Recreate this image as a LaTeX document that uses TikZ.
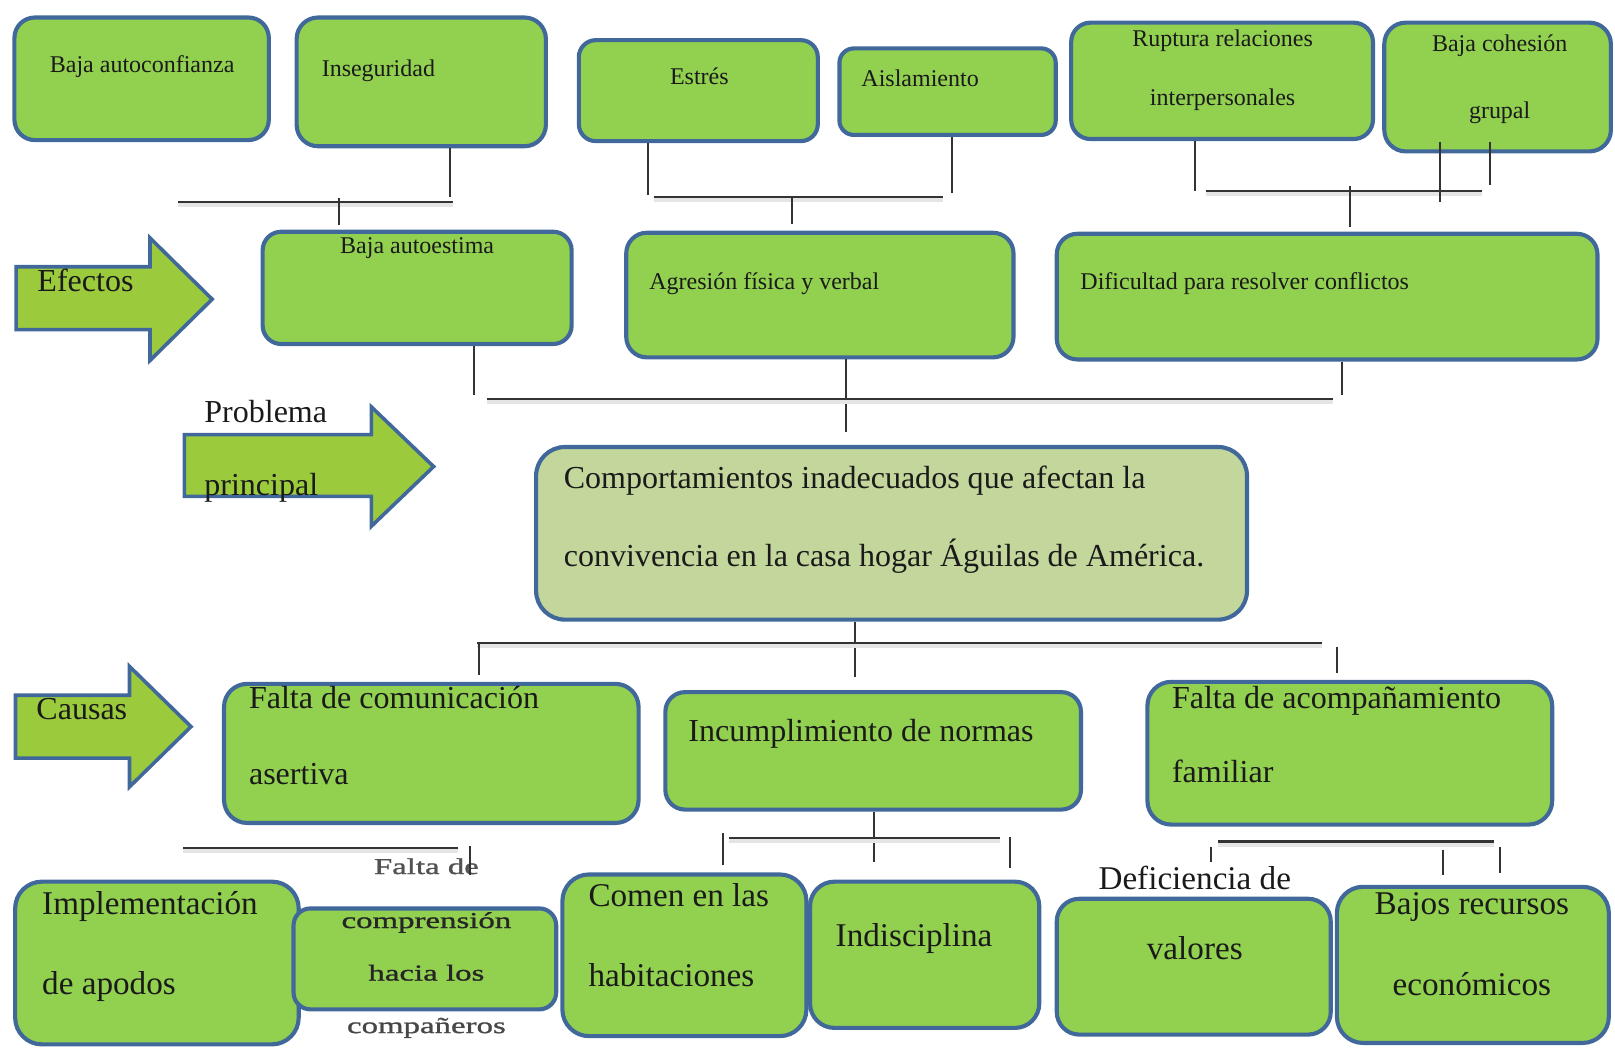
\documentclass[tikz,border=0pt]{standalone}
\usepackage{fontspec}
\setmainfont{Liberation Serif}
\newfontfamily\widefont[FakeStretch=1.45,FakeBold=1.2]{Liberation Serif}
\usetikzlibrary{fit}
\definecolor{boxfill}{HTML}{92D050}
\definecolor{boxline}{HTML}{41689A}
\definecolor{mainfill}{HTML}{C3D69B}
\definecolor{arrfill}{HTML}{9BCB3C}
\definecolor{lineclr}{HTML}{333333}
\definecolor{txtclr}{HTML}{1A1A1A}
\begin{document}
\begin{tikzpicture}[x=0.5pt,y=-0.5pt,
  box/.style={draw=boxline, fill=boxfill, line width=2pt, inner sep=0pt},
  mainbox/.style={box, fill=mainfill},
  arrowshape/.style={draw=boxline, fill=arrfill, line width=1.75pt, line join=miter},
  conn/.style={draw=lineclr, line width=1pt},
  hconn/.style={conn, preaction={draw=black!10, line width=2pt, transform canvas={yshift=-1.5pt}}},
  txt/.style={inner sep=0pt, text=txtclr},
  stxt/.style={txt, font=\fontsize{11.65pt}{14pt}\selectfont},
  mtxt/.style={txt, font=\fontsize{15.55pt}{18pt}\selectfont},
  btxt/.style={txt, font=\fontsize{16.1pt}{19pt}\selectfont},
  wtxt/.style={txt, text=black!85, font=\widefont\fontsize{11pt}{13pt}\selectfont},
]
\useasboundingbox (0,0) rectangle (1568,1020);

% ---------- arrows ----------
\draw[arrowshape] (15.6,259) -- (145.6,259) -- (145.6,231) -- (206,290.5) -- (145.6,350) -- (145.6,320) -- (15.6,320) -- cycle;
\draw[arrowshape] (179,422) -- (360.5,422) -- (360.5,395) -- (421,453) -- (360.5,511) -- (360.5,482) -- (179,482) -- cycle;
\draw[arrowshape] (15,675) -- (125.7,675) -- (125.7,647) -- (185.5,705.5) -- (125.7,764) -- (125.7,736) -- (15,736) -- cycle;
\node[mtxt, anchor=base west] (efectos) at (36,283) {Efectos};
\node[mtxt, anchor=base west] (problema) at (198,410) {Problema};
\node[mtxt, anchor=base west] (principal) at (198,480.6) {principal};
\node[mtxt, anchor=base west] (causas) at (35,699) {Causas};

% ---------- top row ----------
\node[box, rounded corners=9.9pt, fit={(14,17)(261,136)}] (a1) {};
\node[box, rounded corners=10.4pt, fit={(288,17)(530,142)}] (a2) {};
\node[box, rounded corners=8.2pt, fit={(562,39)(794,137)}] (a3) {};
\node[box, rounded corners=7pt, fit={(815,47)(1025,131)}] (a4) {};
\node[box, rounded corners=9.4pt, fit={(1040,22)(1333,135)}] (a5) {};
\node[box, rounded corners=10.4pt, fit={(1344,22)(1564,147)}] (a6) {};
\node[stxt, anchor=base] (ta1) at (138,70) {Baja autoconfianza};
\node[stxt, anchor=base west] (ta2) at (312,74.5) {Inseguridad};
\node[stxt, anchor=base] (ta3) at (679,82.5) {Estrés};
\node[stxt, anchor=base west] (ta4) at (836,84) {Aislamiento};
\node[stxt, anchor=base] (ta5a) at (1187,45) {Ruptura relaciones};
\node[stxt, anchor=base] (ta5b) at (1187,102) {interpersonales};
\node[stxt, anchor=base] (ta6a) at (1456,50) {Baja cohesión};
\node[stxt, anchor=base] (ta6b) at (1456,115) {grupal};

% ---------- second row ----------
\node[box, rounded corners=9pt, fit={(255,225)(555,334)}] (b1) {};
\node[box, rounded corners=10pt, fit={(608,226)(984,347)}] (b2) {};
\node[box, rounded corners=10pt, fit={(1026,227)(1551,349)}] (b3) {};
\node[stxt, anchor=base] (tb1) at (405,246) {Baja autoestima};
\node[stxt, anchor=base west] (tb2) at (630,281.5) {Agresión física y verbal};
\node[stxt, anchor=base west] (tb3) at (1048.6,281.5) {Dificultad para resolver conflictos};

% ---------- main problem ----------
\node[mainbox, rounded corners=14pt, fit={(520.5,434)(1210.7,601.6)}] (main) {};
\node[mtxt, anchor=base west] (tm1) at (547,474) {Comportamientos inadecuados que afectan la};
\node[mtxt, anchor=base west] (tm2) at (547,550) {convivencia en la casa hogar Águilas de América.};

% ---------- causes row ----------
\node[box, rounded corners=11.2pt, fit={(217.5,664)(620,799)}] (c1) {};
\node[box, rounded corners=9.5pt, fit={(646,672)(1049.5,786)}] (c2) {};
\node[box, rounded corners=11.6pt, fit={(1114,662)(1507,800.6)}] (c3) {};
\node[mtxt, anchor=base west] (tc1a) at (241.4,687.6) {Falta de comunicación};
\node[mtxt, anchor=base west] (tc1b) at (241.4,762) {asertiva};
\node[mtxt, anchor=base west] (tc2) at (668,720) {Incumplimiento de normas};
\node[mtxt, anchor=base west] (tc3a) at (1137.5,687.6) {Falta de acompañamiento};
\node[mtxt, anchor=base west] (tc3b) at (1137.5,760) {familiar};

% ---------- bottom row ----------
\node[box, rounded corners=13pt, fit={(14.7,856)(290,1014)}] (d1) {};
\node[box, rounded corners=8.2pt, fit={(285,882)(540,980)}] (d2) {};
\node[box, rounded corners=13pt, fit={(546,849)(783,1006)}] (d3) {};
\node[box, rounded corners=11.8pt, fit={(786.5,856)(1009,998)}] (d4) {};
\node[box, rounded corners=11pt, fit={(1026,872.6)(1292,1004.5)}] (d5) {};
\node[box, rounded corners=12.7pt, fit={(1298,861)(1562,1012.6)}] (d6) {};
\node[btxt, anchor=base west] (td1a) at (40.6,888) {Implementación};
\node[btxt, anchor=base west] (td1b) at (40.6,966) {de apodos};
\node[wtxt, anchor=base, text=black!68] (td2a) at (414,848.6) {Falta de};
\node[wtxt, anchor=base] (td2b) at (414,901) {comprensión};
\node[wtxt, anchor=base] (td2c) at (414,952) {hacia los};
\node[wtxt, anchor=base, text=black!72] (td2d) at (414,1003) {compañeros};
\node[btxt, anchor=base west] (td3a) at (571,880) {Comen en las};
\node[btxt, anchor=base west] (td3b) at (571,958) {habitaciones};
\node[btxt, anchor=base west] (td4) at (811,919) {Indisciplina};
\node[btxt, anchor=base] (td5a) at (1160,864) {Deficiencia de};
\node[btxt, anchor=base] (td5b) at (1160,932) {valores};
\node[btxt, anchor=base] (td6a) at (1429,888) {Bajos recursos};
\node[btxt, anchor=base] (td6b) at (1429,967) {económicos};

% ---------- connector coordinates ----------
\coordinate (g1a) at (437,191);
\coordinate (g1l) at (173,196.4);
\coordinate (g1r) at (440,196.4);
\coordinate (g1t) at (328.7,192.6);
\coordinate (g1b) at (328.7,218.5);
\coordinate (g2a) at (629,189);
\coordinate (g2b) at (924,187);
\coordinate (g2l) at (635,191);
\coordinate (g2r) at (916,191);
\coordinate (g2t) at (769,191);
\coordinate (g2d) at (769,217.5);
\coordinate (g3a) at (1160,185);
\coordinate (g3l) at (1171,185);
\coordinate (g3r) at (1439,185);
\coordinate (g3t) at (1311,181);
\coordinate (g3d) at (1311,220);
\coordinate (g3p) at (1398,196);
\coordinate (g3q) at (1447,179.6);
\coordinate (m1) at (460.5,383.5);
\coordinate (m2) at (821,419);
\coordinate (m3) at (1303,383.5);
\coordinate (ml) at (473,387);
\coordinate (mr) at (1294,387);
\coordinate (k0) at (830,657);
\coordinate (kl) at (463,624.6);
\coordinate (kr) at (1283.5,624.6);
\coordinate (k1t) at (464.6,624.6);
\coordinate (k1b) at (464.6,655);
\coordinate (k3t) at (1298,628);
\coordinate (k3b) at (1298,653);
\coordinate (s1l) at (177.7,823.6);
\coordinate (s1r) at (444.3,823.6);
\coordinate (s1t) at (456,821);
\coordinate (s1b) at (456,850);
\coordinate (s2a) at (848.6,836.6);
\coordinate (s2l) at (708,813.7);
\coordinate (s2r) at (971,813.7);
\coordinate (s2pt) at (702,809);
\coordinate (s2pb) at (702,840);
\coordinate (s2qt) at (981,812.6);
\coordinate (s2qb) at (981,842.7);
\coordinate (s3l) at (1182.6,817);
\coordinate (s3r) at (1450.6,817);
\coordinate (s3at) at (1175.4,822);
\coordinate (s3ab) at (1175.4,836.6);
\coordinate (s3bt) at (1401,825);
\coordinate (s3bb) at (1401,849.5);
\coordinate (s3ct) at (1456,822);
\coordinate (s3cb) at (1456,848);

% ---------- connectors ----------
\draw[conn] (a2.south -| g1a) -- (g1a);
\draw[hconn] (g1l) -- (g1r);
\draw[conn] (g1t) -- (g1b);

\draw[conn] (a3.south -| g2a) -- (g2a);
\draw[conn] (a4.south -| g2b) -- (g2b);
\draw[hconn] (g2l) -- (g2r);
\draw[conn] (g2t) -- (g2d);

\draw[conn] (a5.south -| g3a) -- (g3a);
\draw[hconn] (g3l) -- (g3r);
\draw[conn] (g3t) -- (g3d);
\draw[conn] (1398,137.5) -- (g3p);
\draw[conn] (1447,137.5) -- (g3q);

\draw[conn] (b1.south -| m1) -- (m1);
\draw[conn] (b2.south -| m2) -- (m2);
\draw[conn] (b3.south -| m3) -- (m3);
\draw[hconn] (ml) -- (mr);

\draw[conn] (main.south -| k0) -- (k0);
\draw[hconn] (kl) -- (kr);
\draw[conn] (k1t) -- (k1b);
\draw[conn] (k3t) -- (k3b);

\draw[hconn] (s1l) -- (s1r);
\draw[conn] (s1t) -- (s1b);
\draw[conn] (c2.south -| s2a) -- (s2a);
\draw[hconn] (s2l) -- (s2r);
\draw[conn] (s2pt) -- (s2pb);
\draw[conn] (s2qt) -- (s2qb);
\draw[hconn] (s3l) -- (s3r);
\draw[conn] (s3at) -- (s3ab);
\draw[conn] (s3bt) -- (s3bb);
\draw[conn] (s3ct) -- (s3cb);
\end{tikzpicture}
\end{document}
